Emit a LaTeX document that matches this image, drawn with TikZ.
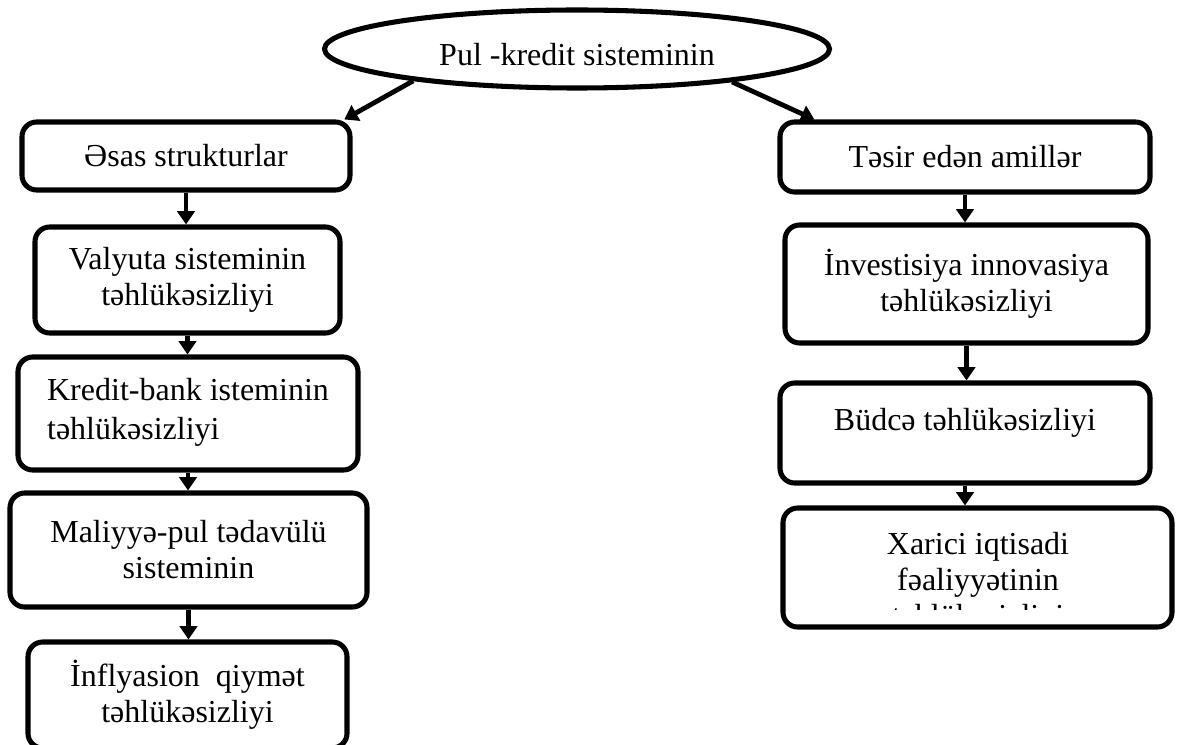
\documentclass[tikz,border=0pt]{standalone}
\usepackage{fontspec}
\setmainfont{Liberation Serif}
\usetikzlibrary{shapes.geometric,arrows.meta}
\tikzset{
  box/.style={draw, line width=3.8pt, rounded corners=11pt, align=center, inner sep=0pt,
    font=\fontsize{24}{27}\selectfont},
  conn/.style={line width=3.6pt, -{Triangle[length=10pt,width=13pt]}},
}
\begin{document}
\begin{tikzpicture}[x=0.75pt,y=-0.75pt]
\useasboundingbox (0,0) rectangle (1177,745);
% top ellipse
\node[ellipse, draw, line width=3.8pt, minimum width=505*0.75pt, minimum height=78*0.75pt,
  inner sep=0pt, font=\fontsize{24}{27}\selectfont] (ell) at (577,49) {\raisebox{-4.5pt}[\height][\depth]{Pul -kredit sisteminin}};
% left column
\node[box, minimum width=328*0.75pt, minimum height=68*0.75pt] (b1) at (186,156) {Əsas strukturlar};
\node[box, minimum width=305*0.75pt, minimum height=106*0.75pt] (b2) at (187.5,280) {Valyuta sisteminin\\təhlükəsizliyi};
\node[box, align=left, minimum width=340*0.75pt, minimum height=113*0.75pt] (b3) at (188,413.5) {\raisebox{2pt}[\height][\depth]{Kredit-bank isteminin}\\təhlükəsizliyi};
\node[box, minimum width=357*0.75pt, minimum height=114*0.75pt] (b4) at (188.5,550) {Maliyyə-pul tədavülü\\sisteminin};
\node[box, minimum width=319*0.75pt, minimum height=106*0.75pt] (b5) at (187.5,695) {İnflyasion\ \ qiymət\\təhlükəsizliyi};
% right column
\node[box, minimum width=370*0.75pt, minimum height=70*0.75pt] (r1) at (965,157) {Təsir edən amillər};
\node[box, minimum width=363*0.75pt, minimum height=118*0.75pt] (r2) at (966.5,284) {İnvestisiya innovasiya\\təhlükəsizliyi};
\node[box, minimum width=370*0.75pt, minimum height=100*0.75pt] (r3) at (965,433) {\raisebox{7.5pt}[\height][\depth]{Büdcə təhlükəsizliyi}};
\node[box, minimum width=389*0.75pt, minimum height=119*0.75pt] (r4) at (977.5,567.5) {};
\begin{scope}
\clip (783,508) rectangle (1172,609);
\node[align=center, inner sep=0pt, font=\fontsize{24}{27}\selectfont] (r4t) at (978,583) {Xarici iqtisadi\\fəaliyyətinin\\təhlükəsizliyi};
\end{scope}
% connectors
\draw[conn] (ell.191) -- (b1.13);
\draw[conn] (ell.348) -- (r1.166);
\draw[conn] (b1.south) -- (b1.south |- b2.north);
\draw[conn] (b2.south) -- (b2.south |- b3.north);
\draw[conn] (b3.south) -- (b3.south |- b4.north);
\draw[conn] (b4.south) -- (b4.south |- b5.north);
\draw[conn] (r1.south) -- (r1.south |- r2.north);
\draw[conn] (r2.south) -- (r2.south |- r3.north);
\draw[conn] (r3.south) -- (r3.south |- r4.north);
\end{tikzpicture}
\end{document}
